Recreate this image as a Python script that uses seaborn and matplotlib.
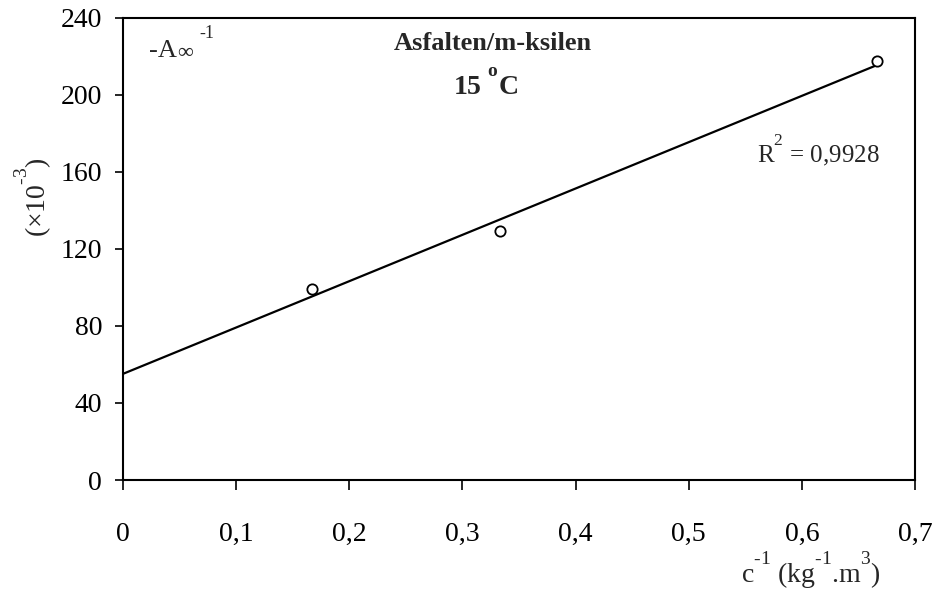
import numpy as np
import pandas as pd
import matplotlib
matplotlib.use("Agg")
import matplotlib.pyplot as plt
import seaborn as sns

try:
    from matplotlib import _mathtext
    _mathtext.FontConstantsBase.sup1 = 1.4
except Exception:
    pass

# ---- data ----
c_inv = [0.1667, 0.3333, 0.6667]          # c^-1 (kg^-1.m^3)
a_inv = [99.2, 129.2, 217.4]              # -A_inf^-1 (x10^-3)
x_ticks = [0, 0.1, 0.2, 0.3, 0.4, 0.5, 0.6, 0.7]
x_tick_labels = ["0", "0,1", "0,2", "0,3", "0,4", "0,5", "0,6", "0,7"]
y_ticks = [0, 40, 80, 120, 160, 200, 240]
y_tick_labels = ["0", "40", "80", "120", "160", "200", "240"]
r2_text = "0,9928"

HY = "\u2010"  # short hyphen for superscripts

sns.set_theme(style="white")
plt.rcParams["font.family"] = ["Liberation Serif", "DejaVu Serif"]
plt.rcParams["mathtext.fontset"] = "custom"
plt.rcParams["mathtext.rm"] = "Liberation Serif"
plt.rcParams["mathtext.it"] = "Liberation Serif:italic"
plt.rcParams["mathtext.bf"] = "Liberation Serif:bold"

fig = plt.figure(figsize=(9.37, 5.96), dpi=100)
ax = fig.add_axes([0.1313, 0.1946, 0.8452, 0.776])

df = pd.DataFrame({"x": c_inv, "y": a_inv})

# linear trend line from x=0 to last point
slope, intercept = np.polyfit(df["x"], df["y"], 1)
fit = pd.DataFrame({"x": [0.0, max(c_inv)]})
fit["y"] = intercept + slope * fit["x"]
sns.lineplot(data=fit, x="x", y="y", ax=ax, color="black", linewidth=1.6)

sns.scatterplot(data=df, x="x", y="y", ax=ax, marker="o", s=55,
                facecolor="white", edgecolor="black", linewidth=1.3, zorder=5)

ax.set_xlim(0, 0.7)
ax.set_ylim(0, 240)
ax.set_xticks(x_ticks)
ax.set_xticklabels(x_tick_labels)
ax.set_yticks(y_ticks)
ax.set_yticklabels(y_tick_labels)
ax.tick_params(axis="x", direction="out", length=7, width=1.2, pad=23.5,
               labelsize=20, colors="black", bottom=True)
ax.tick_params(axis="y", direction="out", length=6, width=1.2, pad=9,
               labelsize=20, colors="black", left=True)

for s in ax.spines.values():
    s.set_color("black")
    s.set_linewidth(1.5)

ax.set_xlabel("")
ax.set_ylabel("")

# axis labels
fig.text(880 / 937, 1 - 583 / 596,
         r"c$^{" + HY + r"1}$ (kg$^{" + HY + r"1}$.m$^{3}$)",
         ha="right", va="baseline", fontsize=20)
fig.text(33 / 937, 1 - 197 / 596, r"($\times$10$^{" + HY + r"3}$)",
         ha="center", va="center", rotation=90, fontsize=20)

# annotations inside the plot
fig.text(149 / 937, 1 - 57 / 596, "-A", ha="left", va="baseline", fontsize=19)
fig.text(177 / 937, 1 - 57.5 / 596, "\u221e", ha="left", va="baseline", fontsize=16)
fig.text(199 / 937, 1 - 37.5 / 596, "-1", ha="left", va="baseline", fontsize=13)
fig.text(493 / 937, 1 - 43 / 596, "Asfalten/m-ksilen",
         ha="center", va="center", fontsize=19, fontweight="bold")
fig.text(486 / 937, 1 - 85 / 596, r"15 $^{\mathbf{o}}$C",
         ha="center", va="center", fontsize=20, fontweight="bold")
fig.text(880 / 937, 1 - 162 / 596, r"R$^{2}$ = " + r2_text,
         ha="right", va="baseline", fontsize=18)

fig.savefig("out.png", dpi=100, facecolor="white")
